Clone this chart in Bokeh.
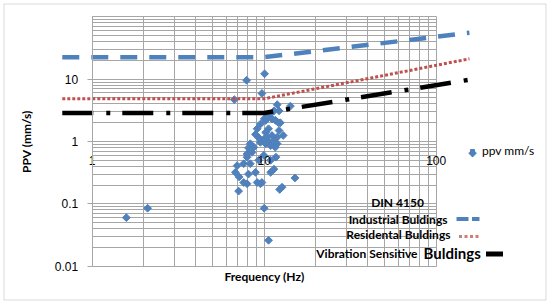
import math
from bokeh.plotting import figure
from bokeh.models import (Range1d, FixedTicker, CustomJSTickFormatter, Label,
                          BoxAnnotation, Legend, LegendItem)
from bokeh.embed import file_html
from bokeh.resources import INLINE

# ---------------- data ----------------
freq = [1.58, 2.1, 10.0, 10.6, 7.9, 10.05, 6.7, 9.7, 14.2, 11.9, 7.1, 12.7, 12.3, 15.1,
        9.5, 7.95, 7.6, 6.96, 6.8, 7.15, 8.1, 8.9, 9.1, 9.7, 10.9, 11.4, 11.7, 10.9,
        8.7, 8.5, 7.95, 7.6, 8.3, 9.3, 9.95, 10.2, 10.9, 11.6, 11.9, 10.6, 8.3, 7.95,
        8.1, 9.5,
        11.4, 12.2, 10.6, 10.0, 11.1, 11.6, 12.4, 9.5, 9.1, 10.6, 12.2, 10.2, 11.1,
        10.0, 11.9, 11.4, 10.4, 10.9, 10.2, 12.1, 12.9, 8.9, 9.3]
ppv = [0.06, 0.085, 0.085, 0.026, 9.6, 12.2, 4.7, 5.9, 3.7, 3.9, 0.16, 0.185, 0.17, 0.26,
       0.21, 0.21, 0.22, 0.41, 0.32, 0.27, 0.30, 0.32, 0.22, 0.22, 0.32, 0.36, 0.56, 0.5,
       0.81, 0.67, 0.56, 0.44, 0.44, 0.5, 0.6, 0.92, 0.86, 0.81, 0.92, 1.0, 0.92, 0.63,
       0.79, 0.97,
       3.1, 3.1, 2.6, 2.3, 2.3, 2.2, 2.0, 1.9, 1.6, 1.6, 1.5, 1.4, 1.25,
       1.1, 1.17, 1.04, 1.17, 2.78, 2.17, 2.0, 1.25, 1.3, 1.15]

line_freq = [0.67, 10.0, 156.0]
industrial = [22.5, 22.5, 55.5]
residential = [4.85, 4.85, 21.2]
sensitive = [2.87, 2.87, 9.8]

x_major = [1, 10, 100]
x_minor = [2, 3, 4, 5, 6, 7, 8, 9, 20, 30, 40, 50, 60, 70, 80, 90]
y_major = [0.01, 0.1, 1, 10, 100]
y_minor = [0.02, 0.03, 0.04, 0.05, 0.06, 0.07, 0.08, 0.09,
           0.2, 0.3, 0.4, 0.5, 0.6, 0.7, 0.8, 0.9,
           2, 3, 4, 5, 6, 7, 8, 9,
           20, 30, 40, 50, 60, 70, 80, 90]
x_tick_vals = [1, 10, 100]
x_tick_labels = ["1", "10", "100"]
y_tick_vals = [0.01, 0.1, 1, 10]
y_tick_labels = ["0.01", "0.1", "1", "10"]

# ---------------- layout geometry (pixels) ----------------
W, H = 550, 303
FL, FR, FT, FB = 0, W, 0, H          # frame covers the whole canvas
X1, DX = 91.7, 172.0                 # pixel of x=1, pixels per decade
Y1, DY = 141.0, 62.33                # pixel of y=1, pixels per decade

BLUE = "#4f81bd"
RED = "#c0504d"
GRID = "#a6a6a6"

x_range = Range1d(10 ** ((FL - X1) / DX), 10 ** ((FR - X1) / DX))
y_range = Range1d(10 ** ((Y1 - FB) / DY), 10 ** ((Y1 - FT) / DY))

p = figure(width=W, height=H, x_axis_type="log", y_axis_type="log",
           x_range=x_range, y_range=y_range, output_backend="svg", title=None,
           toolbar_location=None, min_border=0)
p.outline_line_color = None
p.background_fill_color = "white"
p.border_fill_color = "white"

# grids
xg = p.xgrid[0]
xg.ticker = FixedTicker(ticks=x_major, minor_ticks=x_minor)
xg.bounds = (1, 100)
xg.cross_bounds = (0.01, 100)
xg.grid_line_color = GRID
xg.minor_grid_line_color = GRID
yg = p.ygrid[0]
yg.ticker = FixedTicker(ticks=y_major, minor_ticks=y_minor)
yg.bounds = (0.01, 100)
yg.cross_bounds = (1, 100)
yg.grid_line_color = GRID
yg.minor_grid_line_color = GRID

fmt_code = "const i = vals.indexOf(tick); return i >= 0 ? labs[i] : '';"

xa = p.xaxis[0]
xa.fixed_location = 1
xa.bounds = (1, 100)
xa.ticker = FixedTicker(ticks=x_tick_vals)
xa.formatter = CustomJSTickFormatter(args=dict(vals=x_tick_vals, labs=x_tick_labels), code=fmt_code)
xa.axis_line_color = None
xa.major_tick_line_color = None
xa.minor_tick_line_color = None
xa.major_tick_out = 0
xa.major_tick_in = 0
xa.major_label_standoff = 14
xa.major_label_text_font = "Liberation Sans"
xa.major_label_text_font_size = "12px"
xa.major_label_text_color = "black"
xa.axis_label = "Frequency (Hz)"
xa.axis_label_standoff = 101
xa.axis_label_text_font = "Lato"
xa.axis_label_text_font_style = "bold"
xa.axis_label_text_font_size = "12px"
xa.axis_label_text_color = "black"

ya = p.yaxis[0]
ya.fixed_location = 1
ya.bounds = (0.01, 100)
ya.ticker = FixedTicker(ticks=y_tick_vals)
ya.formatter = CustomJSTickFormatter(args=dict(vals=y_tick_vals, labs=y_tick_labels), code=fmt_code)
ya.axis_line_color = GRID
ya.major_tick_line_color = GRID
ya.minor_tick_line_color = None
ya.major_tick_out = 5
ya.major_tick_in = 0
ya.major_label_standoff = 9
ya.major_label_text_font = "Liberation Sans"
ya.major_label_text_font_size = "12px"
ya.major_label_text_color = "black"
ya.axis_label = "PPV (mm/s)"
ya.axis_label_standoff = 18
ya.axis_label_text_font = "Lato"
ya.axis_label_text_font_style = "bold"
ya.axis_label_text_font_size = "12px"
ya.axis_label_text_color = "black"

# scatter
sc = p.scatter(freq, ppv, marker="square", angle=math.pi / 4, size=5.5,
               fill_color=BLUE, line_color=BLUE)

# DIN 4150 lines
p.line(line_freq, industrial, line_color=BLUE, line_width=4.5, line_dash="17 12")
p.line(line_freq, residential, line_color=RED, line_width=3, line_dash="3 2")
p.line(line_freq, sensitive, line_color="black", line_width=4.5, line_dash="31 13 4 12")

# legend for the measured points
leg = Legend(items=[LegendItem(label="ppv mm/s", renderers=[sc])],
             location=(467 - FL, FB - 158), glyph_width=10, glyph_height=10,
             label_standoff=5, label_height=14, padding=0, margin=0, spacing=0,
             border_line_color=None, background_fill_alpha=0,
             label_text_font="Lato", label_text_font_size="12px",
             label_text_color="black")
p.add_layout(leg)


def sx(px):
    return px - FL


def sy(py):
    return FB - py


# diamond-shaped legend key (legend keys are drawn unrotated)
p.add_layout(Label(x=sx(472), y=sy(151.5), x_units="screen", y_units="screen", text="\u25c6",
                   text_font="DejaVu Sans", text_font_size="11px", text_color=BLUE,
                   text_align="center", text_baseline="middle",
                   background_fill_color="white"))


def txt(x, y, s, align, size="12px"):
    p.add_layout(Label(x=sx(x), y=sy(y), x_units="screen", y_units="screen", text=s,
                       text_font="Lato", text_font_style="bold", text_font_size=size,
                       text_color="black", text_align=align, text_baseline="middle"))


txt(397, 202, "DIN 4150", "center")
txt(447, 218.5, "Industrial Buldings", "right")
txt(450, 233.5, "Residental Buldings", "right")
txt(417, 253, "Vibration Sensitive", "right")
txt(423, 252, "Buldings", "left", "15px")


def box(l, r, t, b, color, alpha=1.0):
    p.add_layout(BoxAnnotation(left=sx(l), right=sx(r), top=sy(t), bottom=sy(b),
                               left_units="screen", right_units="screen",
                               top_units="screen", bottom_units="screen",
                               fill_color=color, fill_alpha=alpha, line_color=None))


box(456, 468, 216.5, 220.5, BLUE)
box(471.5, 479, 216.5, 220.5, BLUE)
for k in range(4):
    box(458.5 + 5.5 * k, 461.5 + 5.5 * k, 234.5, 237.5, RED, 0.75)
box(485.5, 502.5, 251, 256, "black")

# outer chart border
p.add_layout(BoxAnnotation(left=sx(3.5), right=sx(545.5), top=sy(3.5), bottom=sy(299.5),
                           left_units="screen", right_units="screen",
                           top_units="screen", bottom_units="screen",
                           fill_color=None, line_color="#868686", line_width=1))

open("out.html", "w").write(file_html(p, INLINE))
